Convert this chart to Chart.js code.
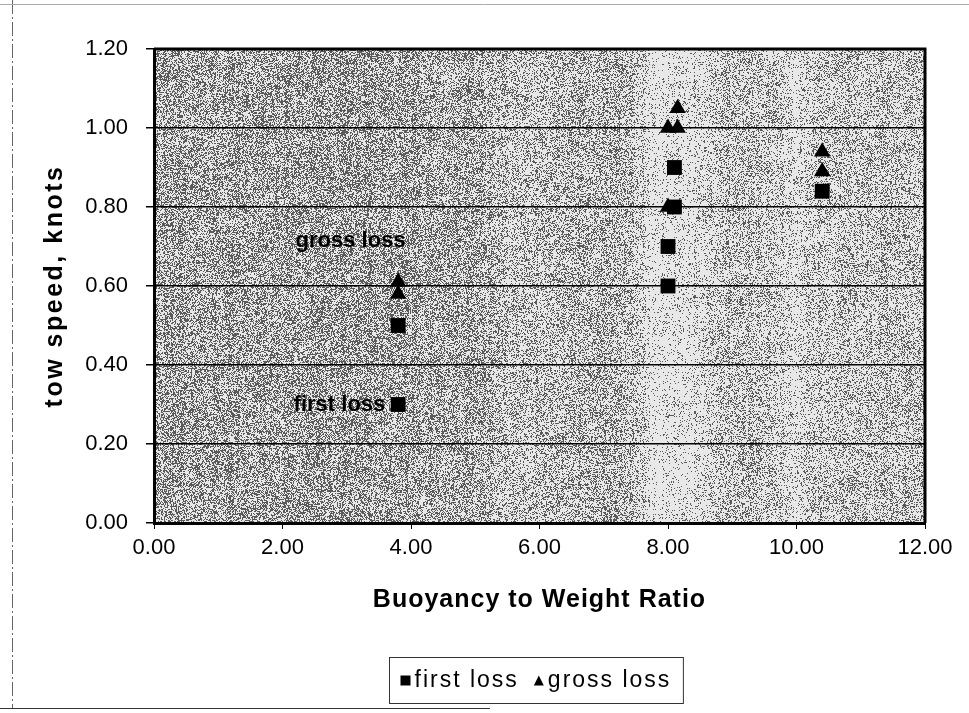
<!DOCTYPE html>
<html>
<head>
<meta charset="utf-8">
<script src="https://cdn.jsdelivr.net/npm/chart.js@4.4.1/dist/chart.umd.min.js"></script>
<style>
    html, body { margin: 0; padding: 0; background: #fff; }
    #wrap { width: 969px; height: 713px; position: relative; }
</style>
</head>
<body>
<div id="wrap"><canvas id="canvas"></canvas></div>
<script>
// Données
const firstLossX = [3.8, 3.8, 8.0, 8.0, 8.1, 8.1, 10.4];
const firstLossY = [0.30, 0.50, 0.60, 0.70, 0.80, 0.90, 0.84];
const grossLossX = [3.8, 3.8, 8.0, 8.0, 8.15, 8.15, 10.4, 10.4];
const grossLossY = [0.58, 0.61, 0.80, 1.00, 1.00, 1.05, 0.89, 0.94];

const seriesNames = ['first loss', 'gross loss'];
const xTitle = 'Buoyancy to Weight Ratio';
const yTitle = 'tow speed, knots';

// Étiquettes posées dans la zone du graphique
const noteText = ['gross loss', 'first loss'];
const noteX = [3.06, 3.6];
const noteY = [0.715, 0.30];
const noteAlign = ['center', 'right'];

const FONT = "'Liberation Sans', Arial, sans-serif";

// Fond gris "photocopié" : densité de points par bande verticale
const bands = [
    [0.00, 0.46], [0.20, 0.49], [0.42, 0.44], [0.46, 0.31], [0.52, 0.33],
    [0.56, 0.42], [0.62, 0.33], [0.645, 0.12], [0.70, 0.15], [0.74, 0.33],
    [0.80, 0.29], [0.83, 0.16], [0.87, 0.29], [1.00, 0.31]
];

function density(f) {
    for (let i = 1; i < bands.length; i++) {
        if (f <= bands[i][0]) {
            const a = bands[i - 1], b = bands[i];
            const t = (f - a[0]) / (b[0] - a[0]);
            return a[1] + (b[1] - a[1]) * t;
        }
    }
    return bands[bands.length - 1][1];
}

function hash(x, y) {
    let h = (x * 374761393 + y * 668265263) | 0;
    h = (h ^ (h >>> 13)) * 1274126177 | 0;
    return ((h ^ (h >>> 16)) >>> 0) / 4294967295;
}

let noiseCanvas = null;
function buildNoise(w, h) {
    const c = document.createElement('canvas');
    c.width = w; c.height = h;
    const g = c.getContext('2d');
    const img = g.createImageData(w, h);
    for (let y = 0; y < h; y++) {
        for (let x = 0; x < w; x++) {
            const col = hash(x >> 1, 7) * 0.14 - 0.07;
            const blob = hash(x >> 4, y >> 4) * 0.1 - 0.05;
            const d = density(x / w) + col + blob;
            const v = hash(x, y) < d ? 90 : 232;
            const k = (y * w + x) * 4;
            img.data[k] = v; img.data[k + 1] = v; img.data[k + 2] = v; img.data[k + 3] = 255;
        }
    }
    g.putImageData(img, 0, 0);
    return c;
}

// Titre d'axe avec espacement des lettres (texte étiré du scan)
function spacedTitle(spacing) {
    return (scale) => {
        if (scale._spaced) return;
        scale._spaced = true;
        const orig = scale.drawTitle;
        scale.drawTitle = function () {
            this.ctx.save();
            this.ctx.letterSpacing = spacing;
            orig.apply(this, arguments);
            this.ctx.restore();
        };
    };
}

const paperPlugin = {
    id: 'paper',
    beforeDraw(chart) {
        const ctx = chart.ctx;
        const a = chart.chartArea;
        ctx.save();
        ctx.fillStyle = '#fff';
        ctx.fillRect(0, 0, chart.width, chart.height);
        const w = Math.round(a.right - a.left), h = Math.round(a.bottom - a.top);
        if (!noiseCanvas || noiseCanvas.width !== w || noiseCanvas.height !== h) {
            noiseCanvas = buildNoise(w, h);
        }
        ctx.drawImage(noiseCanvas, a.left, a.top);
        ctx.restore();
    },
    afterDraw(chart) {
        const ctx = chart.ctx;
        const a = chart.chartArea;
        const xs = chart.scales.x, ys = chart.scales.y;
        ctx.save();

        // bord droit et haut de la zone de tracé
        ctx.strokeStyle = '#000';
        ctx.lineWidth = 3;
        ctx.beginPath();
        ctx.moveTo(a.left, a.top);
        ctx.lineTo(a.right, a.top);
        ctx.lineTo(a.right, a.bottom);
        ctx.stroke();

        // étiquettes dans le graphique
        ctx.fillStyle = '#000';
        ctx.font = 'bold 22px ' + FONT;
        ctx.textBaseline = 'middle';
        for (let i = 0; i < noteText.length; i++) {
            ctx.textAlign = noteAlign[i];
            ctx.fillText(noteText[i], xs.getPixelForValue(noteX[i]), ys.getPixelForValue(noteY[i]));
        }

        // légende encadrée
        ctx.font = '23px ' + FONT;
        ctx.letterSpacing = '2px';
        ctx.textAlign = 'left';
        const w1 = ctx.measureText(seriesNames[0]).width;
        const w2 = ctx.measureText(seriesNames[1]).width;
        const boxW = 11 + 10 + 4 + w1 + 15 + 10 + 4 + w2 + 12;
        const boxH = 46;
        const cx = (a.left + a.right) / 2 - 4;
        const bx = Math.round(cx - boxW / 2) + 0.5;
        const by = Math.round(a.bottom + 134) + 0.5;
        ctx.strokeStyle = '#333';
        ctx.lineWidth = 1;
        ctx.strokeRect(bx, by, boxW, boxH);
        const my = by + boxH / 2;
        let px = bx + 11;
        ctx.fillRect(px, my - 5, 10, 10);
        px += 14;
        ctx.fillText(seriesNames[0], px, my);
        px += w1 + 15;
        ctx.beginPath();
        ctx.moveTo(px + 5, my - 5);
        ctx.lineTo(px + 10, my + 5);
        ctx.lineTo(px, my + 5);
        ctx.closePath();
        ctx.fill();
        px += 14;
        ctx.fillText(seriesNames[1], px, my);

        // cadre extérieur (trait gris)
        ctx.letterSpacing = '0px';
        ctx.strokeStyle = '#666';
        ctx.lineWidth = 1;
        ctx.setLineDash([14, 3, 2, 3]);
        ctx.beginPath();
        ctx.moveTo(12.5, 0);
        ctx.lineTo(12.5, 708);
        ctx.stroke();
        ctx.setLineDash([]);
        ctx.strokeStyle = '#aaa';
        ctx.beginPath();
        ctx.moveTo(0, 4.5);
        ctx.lineTo(chart.width, 4.5);
        ctx.stroke();
        ctx.strokeStyle = '#333';
        ctx.beginPath();
        ctx.moveTo(0, 708.5);
        ctx.lineTo(490, 708.5);
        ctx.stroke();
        ctx.restore();
    }
};

new Chart(
    document.querySelector('#canvas'),
    {
        type: 'scatter',
        data: {
            datasets: [
                {
                    label: seriesNames[0],
                    data: firstLossX.map((x, i) => ({ x: x, y: firstLossY[i] })),
                    pointStyle: 'rect',
                    pointRadius: 10.5,
                    pointHoverRadius: 10.5,
                    backgroundColor: '#000',
                    borderColor: '#000',
                    borderWidth: 0
                },
                {
                    label: seriesNames[1],
                    data: grossLossX.map((x, i) => ({ x: x, y: grossLossY[i] })),
                    pointStyle: 'triangle',
                    pointRadius: 9.5,
                    pointHoverRadius: 9.5,
                    backgroundColor: '#000',
                    borderColor: '#000',
                    borderWidth: 0
                }
            ]
        },
        options: {
            responsive: true,
            maintainAspectRatio: false,
            animation: false,
            layout: {
                padding: { top: 49, right: 44, bottom: 90, left: 0 }
            },
            plugins: {
                legend: { display: false },
                tooltip: { enabled: false }
            },
            scales: {
                x: {
                    type: 'linear',
                    min: 0,
                    max: 12,
                    afterFit: (scale) => { scale.height = 100; spacedTitle('1px')(scale); },
                    border: { display: true, color: '#000', width: 3 },
                    grid: {
                        drawOnChartArea: false,
                        drawTicks: true,
                        tickLength: 6,
                        color: '#000',
                        lineWidth: 1
                    },
                    ticks: {
                        stepSize: 2,
                        color: '#000',
                        padding: 6,
                        maxRotation: 0,
                        font: { family: FONT, size: 22 },
                        callback: (v) => v.toFixed(2)
                    },
                    title: {
                        display: true,
                        text: xTitle,
                        color: '#000',
                        font: { family: FONT, size: 25, weight: 'bold' },
                        padding: { top: 0, bottom: 8 }
                    }
                },
                y: {
                    type: 'linear',
                    min: 0,
                    max: 1.2,
                    afterFit: (scale) => { scale.width = 154; spacedTitle('2.5px')(scale); },
                    border: { display: true, color: '#000', width: 3 },
                    grid: {
                        drawTicks: true,
                        tickLength: 8,
                        color: '#000',
                        lineWidth: 1.5
                    },
                    ticks: {
                        stepSize: 0.2,
                        color: '#000',
                        padding: 18,
                        font: { family: FONT, size: 22 },
                        callback: (v) => v.toFixed(2)
                    },
                    title: {
                        display: true,
                        text: yTitle,
                        color: '#000',
                        font: { family: FONT, size: 25, weight: 'bold' },
                        padding: { top: 40, bottom: 0 }
                    }
                }
            }
        },
        plugins: [paperPlugin]
    }
);
</script>
</body>
</html>
